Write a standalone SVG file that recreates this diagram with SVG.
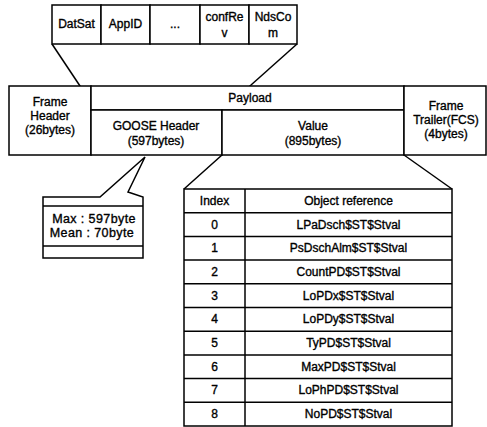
<svg xmlns="http://www.w3.org/2000/svg" width="487" height="427" viewBox="0 0 487 427">
<style>
.b{fill:#fff;stroke:#000;stroke-width:1.5}
.l{fill:none;stroke:#000;stroke-width:1.5}
text{font-family:"Liberation Sans",Arial,sans-serif;font-size:12px;fill:#000;text-anchor:middle;stroke:#000;stroke-width:0.35}
.c{font-size:12.5px;letter-spacing:0.4px}
</style>
<rect width="487" height="427" fill="#fff"/>
<g id="connectors">
<line class="l" x1="52" y1="44" x2="96" y2="110"/>
<line class="l" x1="297" y1="44" x2="223" y2="110"/>
<line class="l" x1="222" y1="155" x2="184" y2="189"/>
<line class="l" x1="404" y1="155" x2="452" y2="189"/>
</g>
<g id="fields">
<rect class="b" x="52" y="5" width="49" height="39"/><text x="76.5" y="28">DatSat</text>
<rect class="b" x="101" y="5" width="49" height="39"/><text x="125.5" y="28">AppID</text>
<rect class="b" x="150" y="5" width="50" height="39"/><text x="175" y="28">...</text>
<rect class="b" x="200" y="5" width="49" height="39"/><text x="224.5" y="21">confRe</text><text x="224.5" y="37">v</text>
<rect class="b" x="249" y="5" width="48" height="39"/><text x="273" y="21">NdsCo</text><text x="273" y="37">m</text>
</g>
<g id="frame-header">
<rect class="b" x="9" y="86" width="82" height="69"/>
<text x="50" y="106">Frame</text><text x="50" y="120">Header</text><text x="50" y="134">(26bytes)</text>
</g>
<g id="payload">
<rect class="b" x="91" y="86" width="313" height="24"/>
<text x="250" y="102">Payload</text>
</g>
<g id="goose-header">
<rect class="b" x="91" y="110" width="131" height="45"/>
<text x="156" y="130">GOOSE Header</text><text x="156" y="145">(597bytes)</text>
</g>
<g id="value">
<rect class="b" x="222" y="110" width="182" height="45"/>
<text x="313" y="130">Value</text><text x="313" y="145">(895bytes)</text>
</g>
<g id="frame-trailer">
<rect class="b" x="404" y="86" width="82" height="69"/>
<text x="446" y="110">Frame</text><text x="446" y="124">Trailer(FCS)</text><text x="446" y="138">(4bytes)</text>
</g>
<g id="callout">
<path class="b" d="M43,197 H100 L145,157 L128,192 L143,197 V258 H43 Z"/>
<line class="l" x1="43" y1="206" x2="143" y2="206"/>
<line class="l" x1="43" y1="246" x2="143" y2="246"/>
<text class="c" x="94" y="223">Max : 597byte</text>
<text class="c" x="92" y="237">Mean : 70byte</text>
</g>
<g id="table">
<rect class="b" x="184" y="189" width="268" height="237"/>
<line class="l" x1="245" y1="189" x2="245" y2="426"/>
<g class="l">
<line x1="184" y1="212.7" x2="452" y2="212.7"/>
<line x1="184" y1="236.4" x2="452" y2="236.4"/>
<line x1="184" y1="260.1" x2="452" y2="260.1"/>
<line x1="184" y1="283.8" x2="452" y2="283.8"/>
<line x1="184" y1="307.5" x2="452" y2="307.5"/>
<line x1="184" y1="331.2" x2="452" y2="331.2"/>
<line x1="184" y1="354.9" x2="452" y2="354.9"/>
<line x1="184" y1="378.6" x2="452" y2="378.6"/>
<line x1="184" y1="402.3" x2="452" y2="402.3"/>
</g>
<text x="214.5" y="205">Index</text><text x="348.5" y="205">Object reference</text>
<text x="214.5" y="228.5">0</text><text x="348.5" y="228.5">LPaDsch$ST$Stval</text>
<text x="214.5" y="252">1</text><text x="348.5" y="252">PsDschAlm$ST$Stval</text>
<text x="214.5" y="276">2</text><text x="348.5" y="276">CountPD$ST$Stval</text>
<text x="214.5" y="299.5">3</text><text x="348.5" y="299.5">LoPDx$ST$Stval</text>
<text x="214.5" y="323">4</text><text x="348.5" y="323">LoPDy$ST$Stval</text>
<text x="214.5" y="347">5</text><text x="348.5" y="347">TyPD$ST$Stval</text>
<text x="214.5" y="370.5">6</text><text x="348.5" y="370.5">MaxPD$ST$Stval</text>
<text x="214.5" y="394">7</text><text x="348.5" y="394">LoPhPD$ST$Stval</text>
<text x="214.5" y="418">8</text><text x="348.5" y="418">NoPD$ST$Stval</text>
</g>
</svg>
